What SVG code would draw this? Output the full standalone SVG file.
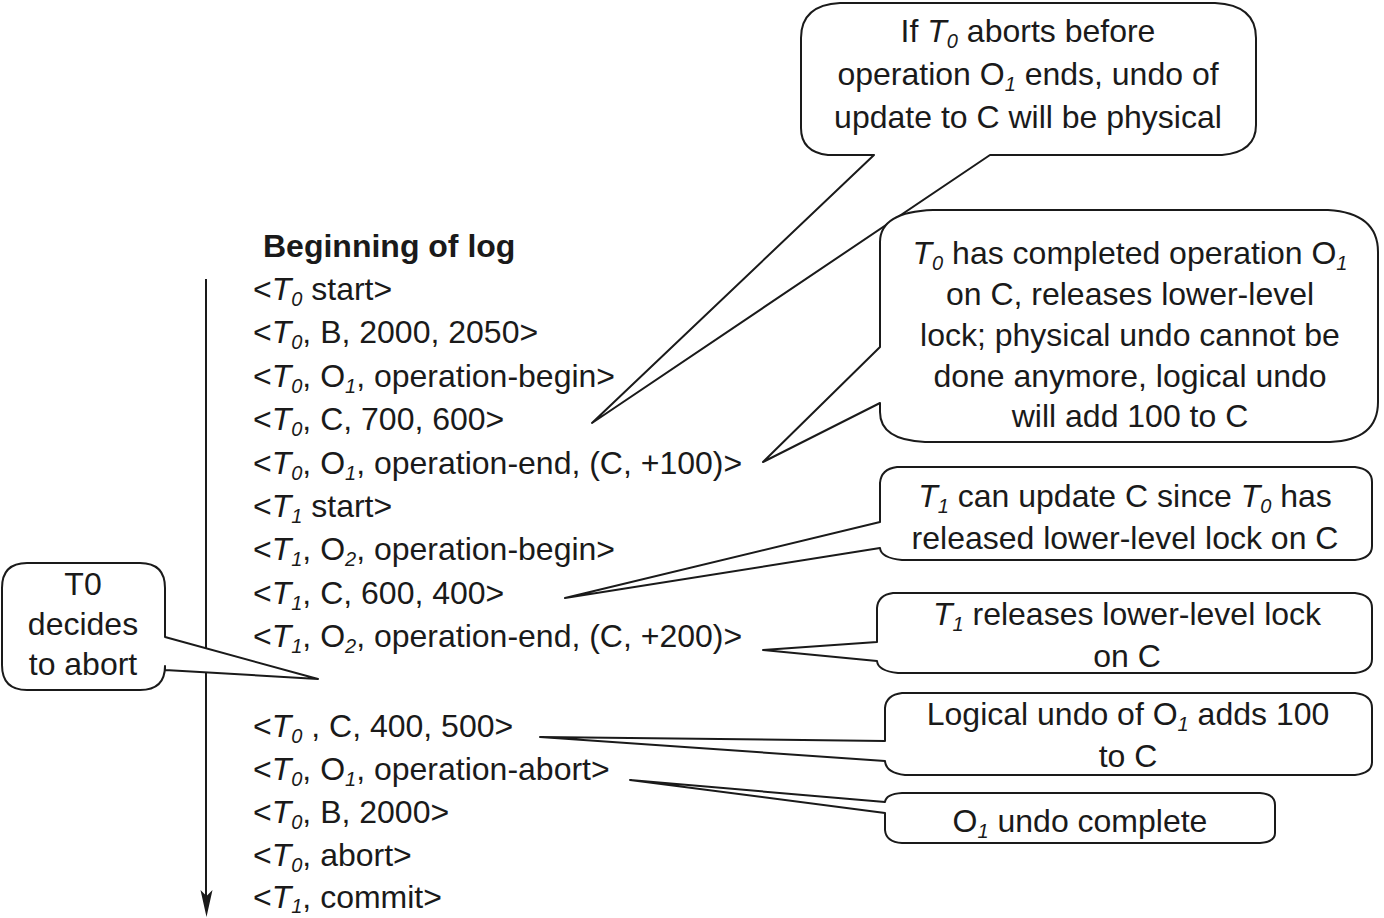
<svg xmlns="http://www.w3.org/2000/svg" width="1384" height="918" viewBox="0 0 1384 918">
<style>
text{font-family:"Liberation Sans",Arial,sans-serif;font-size:32px;fill:#1a1a1a}
.b{font-weight:bold}
.i{font-style:italic}
.s{font-style:italic;font-size:20px}
.c{text-anchor:middle}
.box{fill:#fff;stroke:#1a1a1a;stroke-width:2;stroke-linejoin:round}
.ln{fill:none;stroke:#1a1a1a;stroke-width:2}
</style>
<rect width="1384" height="918" fill="#fff"/>
<g id="connectors">
<line class="ln" x1="206" y1="279" x2="206" y2="898"/>
<path d="M200.5,890 L206.5,917 L212.5,890 L206.5,896 Z" fill="#1a1a1a"/>
</g>
<g id="log">
<text class="b" x="263" y="257">Beginning of log</text>
<text x="253" y="300">&lt;<tspan class="i">T</tspan><tspan class="s" dy="6">0</tspan><tspan dy="-6"> start&gt;</tspan></text>
<text x="253" y="343">&lt;<tspan class="i">T</tspan><tspan class="s" dy="6">0</tspan><tspan dy="-6">, B, 2000, 2050&gt;</tspan></text>
<text x="253" y="387">&lt;<tspan class="i">T</tspan><tspan class="s" dy="6">0</tspan><tspan dy="-6">, O</tspan><tspan class="s" dy="6">1</tspan><tspan dy="-6">, operation-begin&gt;</tspan></text>
<text x="253" y="430">&lt;<tspan class="i">T</tspan><tspan class="s" dy="6">0</tspan><tspan dy="-6">, C, 700, 600&gt;</tspan></text>
<text x="253" y="474">&lt;<tspan class="i">T</tspan><tspan class="s" dy="6">0</tspan><tspan dy="-6">, O</tspan><tspan class="s" dy="6">1</tspan><tspan dy="-6">, operation-end, (C, +100)&gt;</tspan></text>
<text x="253" y="517">&lt;<tspan class="i">T</tspan><tspan class="s" dy="6">1</tspan><tspan dy="-6"> start&gt;</tspan></text>
<text x="253" y="560">&lt;<tspan class="i">T</tspan><tspan class="s" dy="6">1</tspan><tspan dy="-6">, O</tspan><tspan class="s" dy="6">2</tspan><tspan dy="-6">, operation-begin&gt;</tspan></text>
<text x="253" y="604">&lt;<tspan class="i">T</tspan><tspan class="s" dy="6">1</tspan><tspan dy="-6">, C, 600, 400&gt;</tspan></text>
<text x="253" y="647">&lt;<tspan class="i">T</tspan><tspan class="s" dy="6">1</tspan><tspan dy="-6">, O</tspan><tspan class="s" dy="6">2</tspan><tspan dy="-6">, operation-end, (C, +200)&gt;</tspan></text>
<text x="253" y="737">&lt;<tspan class="i">T</tspan><tspan class="s" dy="6">0</tspan><tspan dy="-6"> , C, 400, 500&gt;</tspan></text>
<text x="253" y="780">&lt;<tspan class="i">T</tspan><tspan class="s" dy="6">0</tspan><tspan dy="-6">, O</tspan><tspan class="s" dy="6">1</tspan><tspan dy="-6">, operation-abort&gt;</tspan></text>
<text x="253" y="823">&lt;<tspan class="i">T</tspan><tspan class="s" dy="6">0</tspan><tspan dy="-6">, B, 2000&gt;</tspan></text>
<text x="253" y="866">&lt;<tspan class="i">T</tspan><tspan class="s" dy="6">0</tspan><tspan dy="-6">, abort&gt;</tspan></text>
<text x="253" y="908">&lt;<tspan class="i">T</tspan><tspan class="s" dy="5">1</tspan><tspan dy="-5">, commit&gt;</tspan></text>
</g>
<g id="callout1">
<path class="box" d="M840,3 L1215,3 Q1256,5 1256,38 L1256,125 Q1256,152 1222,155 L990,155 L592,423 L874,155 L828,155 Q801,152 801,128 L801,38 Q801,5 840,3 Z"/>
<text class="c" x="1028" y="42">If  <tspan class="i">T</tspan><tspan class="s" dy="6">0</tspan><tspan dy="-6"> aborts before</tspan></text>
<text class="c" x="1028" y="85">operation O<tspan class="s" dy="6">1</tspan><tspan dy="-6"> ends, undo of</tspan></text>
<text class="c" x="1028" y="128">update to C will be physical</text>
</g>
<g id="callout2">
<path class="box" d="M933,210 L1328,210 Q1378,213 1378,252 L1378,402 Q1378,440 1330,442 L925,442 Q880,440 880,412 L880,403 L763,462 L880,347 L880,242 Q880,212 933,210 Z"/>
<text class="c" x="1130" y="264"><tspan class="i">T</tspan><tspan class="s" dy="6">0</tspan><tspan dy="-6"> has completed operation O</tspan><tspan class="s" dy="6">1</tspan></text>
<text class="c" x="1130" y="305">on C, releases lower-level</text>
<text class="c" x="1130" y="346">lock; physical undo cannot be</text>
<text class="c" x="1130" y="387">done anymore, logical undo</text>
<text class="c" x="1130" y="427">will add 100 to C</text>
</g>
<g id="callout3">
<path class="box" d="M897,467 L1355,467 Q1372,469 1372,482 L1372,546 Q1372,558 1355,560 L902,560 Q881,558 880,548 L565,598 L880,522 L880,483 Q881,469 897,467 Z"/>
<text class="c" x="1125" y="507"><tspan class="i">T</tspan><tspan class="s" dy="6">1</tspan><tspan dy="-6"> can update C since </tspan><tspan class="i">T</tspan><tspan class="s" dy="6">0</tspan><tspan dy="-6"> has</tspan></text>
<text class="c" x="1125" y="549">released lower-level lock on C</text>
</g>
<g id="callout4">
<path class="box" d="M893,593 L1355,593 Q1372,595 1372,608 L1372,659 Q1372,671 1355,673 L898,673 Q878,671 877,661 L763,650 L877,642 L877,608 Q878,595 893,593 Z"/>
<text class="c" x="1127" y="625"><tspan class="i">T</tspan><tspan class="s" dy="6">1</tspan><tspan dy="-6"> releases lower-level lock</tspan></text>
<text class="c" x="1127" y="667">on C</text>
</g>
<g id="callout5">
<path class="box" d="M902,693 L1355,693 Q1372,695 1372,708 L1372,762 Q1372,773 1355,775 L905,775 Q886,773 885,761 L540,737 L885,741 L885,708 Q886,695 902,693 Z"/>
<text class="c" x="1128" y="725">Logical undo of O<tspan class="s" dy="6">1</tspan><tspan dy="-6"> adds 100</tspan></text>
<text class="c" x="1128" y="767">to C</text>
</g>
<g id="callout6">
<path class="box" d="M902,793 L1260,793 Q1275,794 1275,805 L1275,833 Q1275,842 1260,843 L902,843 Q886,842 885,830 L885,813 L630,780 L885,802 Q886,794 902,793 Z"/>
<text class="c" x="1080" y="832">O<tspan class="s" dy="6">1</tspan><tspan dy="-6"> undo complete</tspan></text>
</g>
<g id="t0box">
<path class="box" d="M27,563 L140,563 Q165,563 165,588 L165,637 L318,679 L165,670 L165,666 Q165,690 140,690 L27,690 Q2,690 2,665 L2,588 Q2,563 27,563 Z"/>
<text class="c" x="83" y="595">T0</text>
<text class="c" x="83" y="635">decides</text>
<text class="c" x="83" y="675">to abort</text>
</g>
</svg>
